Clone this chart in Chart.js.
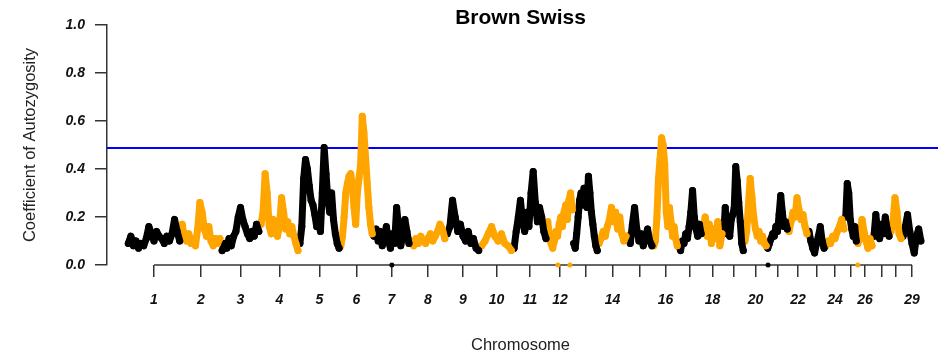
<!DOCTYPE html>
<html>
<head>
<meta charset="utf-8">
<script src="https://cdn.jsdelivr.net/npm/chart.js@4/dist/chart.umd.min.js"></script>
<style>
  html, body { margin: 0; padding: 0; background: #fff; }
  #wrap { width: 938px; height: 359px; }
</style>
</head>
<body>
<div id="wrap"><canvas id="roh" width="938" height="359"></canvas></div>
<script>
// chromosome labels and relative lengths
var chromosomes = ['1','2','3','4','5','6','7','8','9','10','11','12','13','14','15','16','17','18','19','20','21','22','23','24','25','26','27','28','29'];
var chromLength = [54,40,39,39,41,33,37,36,34,33,34,26,25,29,26,25,24,21,21,23,21,20,17,20,12,16,17,12,20];
var tickLabels = ['1','2','3','4','5','6','7','8','9','10','11','12','','14','','16','','18','','20','','22','','24','','26','','','29'];

// coefficient of autozygosity along each chromosome
var chr1 = [0.09,0.12,0.08,0.10,0.07,0.09,0.08,0.11,0.16,0.13,0.10,0.14,0.12,0.11,0.09,0.12,0.10,0.13,0.19,0.14,0.10];
var chr2 = [0.17,0.12,0.10,0.13,0.09,0.11,0.08,0.15,0.26,0.22,0.15,0.12,0.16,0.10,0.08,0.11,0.09,0.11];
var chr3 = [0.06,0.09,0.07,0.11,0.08,0.12,0.14,0.20,0.24,0.19,0.16,0.13,0.11,0.14,0.12,0.17,0.14];
var chr4 = [0.17,0.22,0.38,0.30,0.16,0.13,0.19,0.14,0.12,0.16,0.28,0.22,0.15,0.18,0.13,0.16,0.12,0.09,0.06];
var chr5 = [0.09,0.16,0.36,0.44,0.40,0.33,0.27,0.25,0.21,0.16,0.19,0.14,0.30,0.49,0.38,0.27,0.22,0.30,0.19,0.13,0.09,0.07];
var chr6 = [0.08,0.12,0.20,0.30,0.34,0.37,0.38,0.33,0.24,0.17,0.30,0.36,0.42,0.62,0.55,0.45,0.34,0.24,0.17,0.13];
var chr7 = [0.12,0.15,0.10,0.14,0.08,0.12,0.16,0.10,0.07,0.13,0.09,0.24,0.15,0.08,0.12,0.19,0.14,0.09];
var chr8 = [0.10,0.08,0.11,0.09,0.12,0.10,0.09,0.11,0.13,0.10,0.12,0.14,0.17,0.15,0.11];
var chr9 = [0.13,0.16,0.27,0.20,0.14,0.17,0.12,0.10,0.14,0.09,0.11,0.07,0.06];
var chr10 = [0.08,0.10,0.13,0.16,0.12,0.10,0.13,0.09,0.08,0.06];
var chr11 = [0.07,0.14,0.20,0.27,0.18,0.14,0.22,0.16,0.30,0.39,0.26,0.18,0.24,0.20,0.14,0.11];
var chr12 = [0.18,0.12,0.09,0.07,0.10,0.14,0.12,0.17,0.20,0.16,0.22,0.25,0.19,0.27,0.30,0.23];
var chr13 = [0.09,0.07,0.13,0.20,0.27,0.30,0.25,0.32,0.28,0.24,0.37,0.30,0.22,0.17,0.12,0.08,0.06];
var chr14 = [0.09,0.11,0.14,0.12,0.16,0.19,0.24,0.18,0.22,0.15,0.20,0.13,0.10,0.12];
var chr15 = [0.12,0.09,0.17,0.24,0.15,0.10,0.13,0.08,0.12,0.15,0.10,0.08];
var chr16 = [0.08,0.10,0.20,0.36,0.44,0.53,0.50,0.42,0.22,0.16,0.24,0.18,0.12,0.16,0.11,0.08];
var chr17 = [0.08,0.06,0.10,0.09,0.13,0.11,0.16,0.22,0.31,0.20,0.15,0.12,0.17,0.13];
var chr18 = [0.14,0.20,0.12,0.17,0.09,0.15,0.11,0.18,0.08,0.13];
var chr19 = [0.13,0.24,0.14,0.17,0.12,0.19,0.21,0.24,0.41,0.35,0.26,0.18,0.09,0.06];
var chr20 = [0.10,0.14,0.25,0.36,0.28,0.20,0.15,0.12,0.14,0.10,0.12,0.09,0.08];
var chr21 = [0.07,0.09,0.11,0.13,0.12,0.16,0.14,0.21,0.29,0.22,0.16,0.18,0.15];
var chr22 = [0.14,0.18,0.22,0.20,0.28,0.23,0.19,0.21,0.16,0.13];
var chr23 = [0.14,0.10,0.07,0.05,0.09,0.12,0.16,0.10,0.07];
var chr24 = [0.08,0.10,0.09,0.12,0.11,0.14,0.16,0.19,0.15];
var chr25 = [0.20,0.34,0.30,0.19,0.15,0.12,0.16,0.10];
var chr26 = [0.09,0.12,0.19,0.14,0.10,0.07,0.11,0.08];
var chr27 = [0.12,0.21,0.14,0.11,0.17,0.13,0.20,0.15,0.12];
var chr28 = [0.14,0.18,0.28,0.22,0.13,0.11];
var chr29 = [0.12,0.16,0.21,0.14,0.09,0.05,0.12,0.15,0.10];

// isolated SNPs sitting at zero: chromosome number, fraction along chromosome
var zeroChrom = [7, 12, 12, 21, 26];
var zeroFrac = [0.51, 0.42, 0.88, 0.05, 0.05];

var threshold = 0.487;

var series = [chr1,chr2,chr3,chr4,chr5,chr6,chr7,chr8,chr9,chr10,chr11,chr12,chr13,chr14,chr15,
              chr16,chr17,chr18,chr19,chr20,chr21,chr22,chr23,chr24,chr25,chr26,chr27,chr28,chr29];

var starts = [];
var acc = 0;
for (var i = 0; i < chromLength.length; i++) { starts.push(acc); acc += chromLength[i]; }
var centers = starts.map(function(s, i) { return s + chromLength[i] / 2; });

function colorOf(i) { return i % 2 == 0 ? '#000000' : '#FFA500'; }

var datasets = [];
series.forEach(function(vals, c) {
    var pts = vals.map(function(v, k) {
        return { x: starts[c] + (k + 0.5) * chromLength[c] / vals.length, y: v };
    });
    datasets.push({
        label: 'chr' + chromosomes[c],
        data: pts,
        showLine: true,
        borderColor: colorOf(c),
        backgroundColor: colorOf(c),
        borderWidth: 7,
        borderJoinStyle: 'round',
        borderCapStyle: 'round',
        pointRadius: 3.5,
        pointBorderWidth: 0,
        clip: false
    });
});
zeroChrom.forEach(function(ch, k) {
    var c = ch - 1;
    datasets.push({
        label: 'zero' + k,
        data: [{ x: starts[c] + zeroFrac[k] * chromLength[c], y: 0 }],
        showLine: false,
        backgroundColor: colorOf(c),
        pointRadius: 2.5,
        pointBorderWidth: 0,
        clip: false
    });
});

// blue threshold line + x axis line between first and last tick (R style)
var decor = {
    id: 'decor',
    beforeDatasetsDraw: function(chart) {
        var ctx = chart.ctx, a = chart.chartArea;
        var y = chart.scales.y.getPixelForValue(threshold);
        ctx.save();
        ctx.strokeStyle = '#0000FF';
        ctx.lineWidth = 2;
        ctx.beginPath();
        ctx.moveTo(a.left, y);
        ctx.lineTo(chart.width, y);
        ctx.stroke();
        var xs = chart.scales.x;
        ctx.strokeStyle = '#333';
        ctx.lineWidth = 1.5;
        ctx.beginPath();
        ctx.moveTo(xs.getPixelForValue(centers[0]), a.bottom);
        ctx.lineTo(xs.getPixelForValue(centers[centers.length - 1]), a.bottom);
        ctx.stroke();
        ctx.restore();
    }
};

var tickFont = { family: '"Liberation Sans", Arial, sans-serif', size: 14, weight: 'bold', style: 'italic' };
var titleFont = { family: '"Liberation Sans", Arial, sans-serif', size: 16.5 };

new Chart(document.getElementById('roh'), {
    type: 'scatter',
    data: { datasets: datasets },
    options: {
        responsive: false,
        animation: false,
        devicePixelRatio: 1,
        layout: { padding: 0 },
        plugins: {
            legend: { display: false },
            tooltip: { enabled: false },
            title: {
                display: true,
                text: 'Brown Swiss',
                fullSize: false,
                color: '#000',
                font: { family: '"Liberation Sans", Arial, sans-serif', size: 21, weight: 'bold', lineHeight: 1 },
                padding: { top: 8, bottom: -4 }
            }
        },
        scales: {
            x: {
                type: 'linear',
                min: -20,
                max: 807,
                border: { display: false },
                grid: { drawOnChartArea: false, drawTicks: true, tickLength: 12, color: '#333', lineWidth: 1.5 },
                afterBuildTicks: function(scale) {
                    scale.ticks = centers.map(function(v) { return { value: v }; });
                },
                afterFit: function(scale) { scale.height = 94; },
                ticks: {
                    autoSkip: false,
                    maxRotation: 0,
                    padding: 15,
                    color: '#111',
                    font: tickFont,
                    callback: function(value, index) { return tickLabels[index]; }
                },
                title: {
                    display: true,
                    text: 'Chromosome',
                    color: '#222',
                    font: titleFont,
                    padding: { top: 0, bottom: 4 }
                }
            },
            y: {
                min: 0,
                max: 1,
                border: { display: true, color: '#333', width: 1.5 },
                grid: { drawOnChartArea: false, drawTicks: true, tickLength: 12, color: '#333', lineWidth: 1.5 },
                afterFit: function(scale) { scale.width = 107; },
                ticks: {
                    stepSize: 0.2,
                    padding: 10,
                    color: '#111',
                    font: tickFont,
                    callback: function(v) { return v.toFixed(1); }
                },
                title: {
                    display: true,
                    text: 'Coefficient of Autozygosity',
                    color: '#222',
                    font: titleFont,
                    padding: { top: 21, bottom: 0 }
                }
            }
        }
    },
    plugins: [decor]
});
</script>
</body>
</html>
